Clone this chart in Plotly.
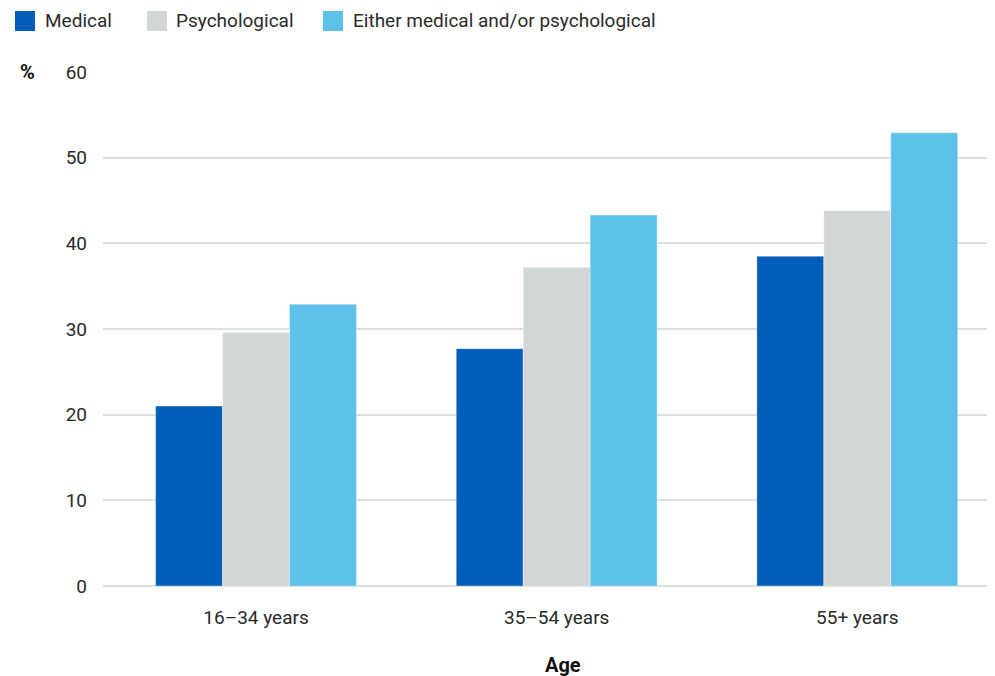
import plotly.graph_objects as go

categories = ["16–34 years", "35–54 years", "55+ years"]
series_names = ["Medical", "Psychological", "Either medical and/or psychological"]
medical = [21.0, 27.7, 38.5]
psychological = [29.6, 37.2, 43.8]
either = [32.9, 43.3, 52.9]
y_ticks = [0, 10, 20, 30, 40, 50, 60]
x_title = "Age"
y_unit = "%"

colors = ["#005EB8", "#D1D6D7", "#5EC1EA"]
values = [medical, psychological, either]

FONT = "Roboto"
FS = 19
# page offset of the figure (body margin)
OFF = 8
W, H = 987, 668
# plot area in page pixels: x 103..995, y 72..586
PL, PR, PT, PB = 103, 995, 72, 586
L, R, T, B = PL - OFF, OFF + W - PR, PT - OFF, OFF + H - PB
PW, PH = PR - PL, PB - PT

def px(x):
    return (x - PL) / PW

def py(y):
    return (PB - y) / PH

fig = go.Figure()
for name, vals, col in zip(series_names, values, colors):
    fig.add_trace(go.Bar(
        x=list(range(len(categories))), y=vals, name=name,
        marker=dict(color=col, line=dict(color="rgba(255,255,255,0.35)", width=1)),
        showlegend=False,
    ))

# custom legend (page pixels)
leg_sq = [15, 147, 323]
leg_tx = [45, 176, 353]
shapes = []
annotations = []
for sx, tx, name, col in zip(leg_sq, leg_tx, series_names, colors):
    shapes.append(dict(type="rect", xref="paper", yref="paper",
                       x0=px(sx), x1=px(sx + 20), y0=py(31), y1=py(11),
                       fillcolor=col, line=dict(width=0)))
    annotations.append(dict(text=name, xref="paper", yref="paper",
                            x=px(tx - 2), y=py(21), xanchor="left", yanchor="middle",
                            showarrow=False, font=dict(family=FONT, size=FS, color="#2a2a2a")))

annotations.append(dict(text="<b>" + y_unit + "</b>", xref="paper", yref="paper",
                        x=px(27), y=1, xanchor="center", yanchor="middle",
                        showarrow=False, font=dict(family=FONT, size=20, color="#111")))
annotations.append(dict(text="<b>" + x_title + "</b>", xref="paper", yref="paper",
                        x=px(563), y=py(665), xanchor="center", yanchor="middle",
                        showarrow=False, font=dict(family=FONT, size=20, color="#111")))

fig.update_layout(
    width=W, height=H,
    margin=dict(l=L, r=R, t=T, b=B),
    paper_bgcolor="white", plot_bgcolor="white",
    barmode="group", bargap=0.332, bargroupgap=0,
    font=dict(family=FONT, size=FS, color="#2a2a2a"),
    shapes=shapes, annotations=annotations,
    xaxis=dict(tickmode="array", tickvals=list(range(len(categories))), ticktext=categories,
               range=[-0.509, 2.458], showgrid=False, zeroline=False, showline=False,
               ticks="", ticklabelstandoff=18, tickfont=dict(size=FS)),
    yaxis=dict(range=[0, 60], tickvals=y_ticks, showgrid=True, gridcolor="#DEDFDF",
               gridwidth=1.5, zeroline=True, zerolinecolor="#DEDFDF", zerolinewidth=1.5,
               showline=False, ticks="", ticklabelstandoff=15, tickfont=dict(size=FS)),
)

fig.write_html("out.html")
